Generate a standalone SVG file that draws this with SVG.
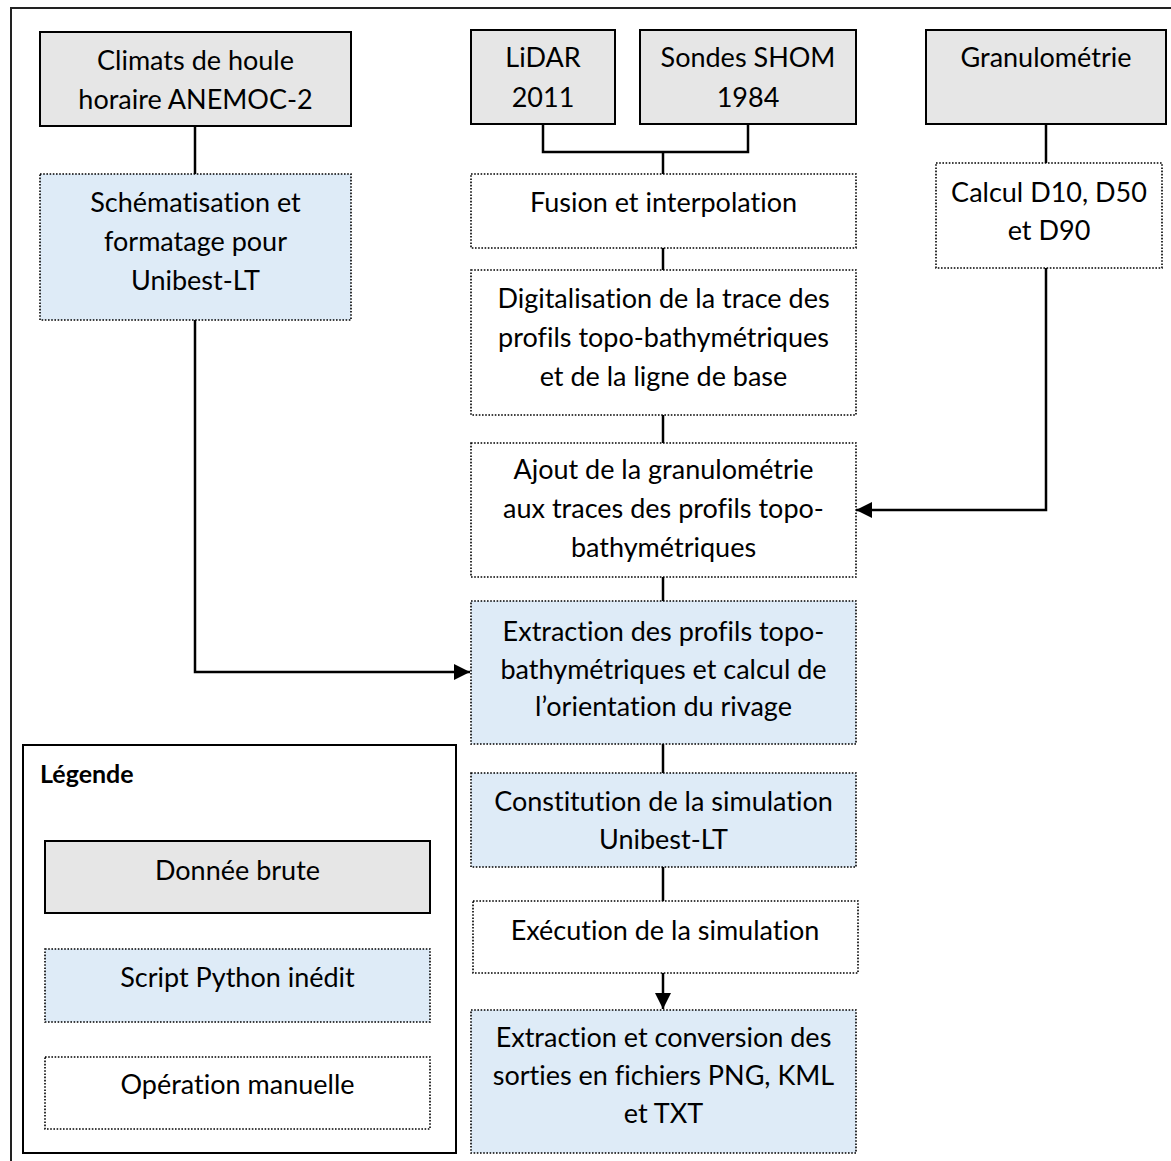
<svg xmlns="http://www.w3.org/2000/svg" width="1171" height="1161" viewBox="0 0 1171 1161">
<defs>
<style>
.raw{fill:#e6e6e6;stroke:#000;stroke-width:2}
.py{fill:#deebf7;stroke:#000;stroke-width:1.6;stroke-dasharray:1.6 1.6}
.man{fill:#fff;stroke:#000;stroke-width:1.6;stroke-dasharray:1.6 1.6}
text{font-family:Lato,"Open Sans","Liberation Sans",sans-serif;font-size:27px;fill:#000;text-anchor:middle;font-variant-ligatures:none}
.con{fill:none;stroke:#000;stroke-width:2.5}
</style>
<marker id="ah" viewBox="0 0 10 10" refX="10" refY="5" markerWidth="6.5" markerHeight="6.5" orient="auto" markerUnits="strokeWidth">
<path d="M0,0 L10,5 L0,10 z" fill="#000"/>
</marker>
</defs>
<rect width="1171" height="1161" fill="#fff"/>
<path d="M11,1161 V8 H1171" fill="none" stroke="#222" stroke-width="2"/>

<g id="connectors">
<path class="con" d="M195,126 V174"/>
<path class="con" d="M195,320 V672 H470" marker-end="url(#ah)"/>
<path class="con" d="M543,124 V152 H748 V124"/>
<path class="con" d="M663,152 V174"/>
<path class="con" d="M663,248 V270"/>
<path class="con" d="M663,415 V443"/>
<path class="con" d="M663,577 V601"/>
<path class="con" d="M663,744 V773"/>
<path class="con" d="M663,867 V901"/>
<path class="con" d="M663,973 V1009" marker-end="url(#ah)"/>
<path class="con" d="M1046,124 V163"/>
<path class="con" d="M1046,268 V510 H856" marker-end="url(#ah)"/>
</g>

<g id="climats">
<rect class="raw" x="40" y="32" width="311" height="94"/>
<text x="195.5" y="70">Climats de houle</text>
<text x="195.5" y="109">horaire ANEMOC-2</text>
</g>
<g id="schematisation">
<rect class="py" x="40" y="174" width="311" height="146"/>
<text x="195.5" y="212">Schématisation et</text>
<text x="195.5" y="251">formatage pour</text>
<text x="195.5" y="290">Unibest-LT</text>
</g>
<g id="lidar">
<rect class="raw" x="471" y="30" width="144" height="94"/>
<text x="543" y="67">LiDAR</text>
<text x="543" y="107">2011</text>
</g>
<g id="sondes">
<rect class="raw" x="640" y="30" width="216" height="94"/>
<text x="748" y="67">Sondes SHOM</text>
<text x="748" y="107">1984</text>
</g>
<g id="granulometrie">
<rect class="raw" x="926" y="30" width="240" height="94"/>
<text x="1046" y="67">Granulométrie</text>
</g>
<g id="calcul">
<rect class="man" x="936" y="163" width="226" height="105"/>
<text x="1049" y="202">Calcul D10, D50</text>
<text x="1049" y="240">et D90</text>
</g>
<g id="fusion">
<rect class="man" x="471" y="174" width="385" height="74"/>
<text x="663.5" y="212">Fusion et interpolation</text>
</g>
<g id="digitalisation">
<rect class="man" x="471" y="270" width="385" height="145"/>
<text x="663.5" y="308">Digitalisation de la trace des</text>
<text x="663.5" y="347">profils topo-bathymétriques</text>
<text x="663.5" y="386">et de la ligne de base</text>
</g>
<g id="ajout">
<rect class="man" x="471" y="443" width="385" height="134"/>
<text x="663.5" y="479">Ajout de la granulométrie</text>
<text x="663.5" y="518">aux traces des profils topo-</text>
<text x="663.5" y="557">bathymétriques</text>
</g>
<g id="extraction-profils">
<rect class="py" x="471" y="601" width="385" height="143"/>
<text x="663.5" y="641">Extraction des profils topo-</text>
<text x="663.5" y="679">bathymétriques et calcul de</text>
<text x="663.5" y="716">l’orientation du rivage</text>
</g>
<g id="constitution">
<rect class="py" x="471" y="773" width="385" height="94"/>
<text x="663.5" y="811">Constitution de la simulation</text>
<text x="663.5" y="849">Unibest-LT</text>
</g>
<g id="execution">
<rect class="man" x="473" y="901" width="385" height="72"/>
<text x="665" y="940">Exécution de la simulation</text>
</g>
<g id="extraction-conversion">
<rect class="py" x="471" y="1010" width="385" height="143"/>
<text x="663.5" y="1047">Extraction et conversion des</text>
<text x="663.5" y="1085">sorties en fichiers PNG, KML</text>
<text x="663.5" y="1123">et TXT</text>
</g>

<g id="legende">
<rect x="23" y="745" width="433" height="408" fill="#fff" stroke="#000" stroke-width="2"/>
<text x="40" y="783" style="text-anchor:start;font-weight:bold;font-size:25px">Légende</text>
<rect class="raw" x="45" y="841" width="385" height="72"/>
<text x="237.5" y="880">Donnée brute</text>
<rect class="py" x="45" y="949" width="385" height="73"/>
<text x="237.5" y="987">Script Python inédit</text>
<rect class="man" x="45" y="1057" width="385" height="72"/>
<text x="237.5" y="1094">Opération manuelle</text>
</g>
</svg>
